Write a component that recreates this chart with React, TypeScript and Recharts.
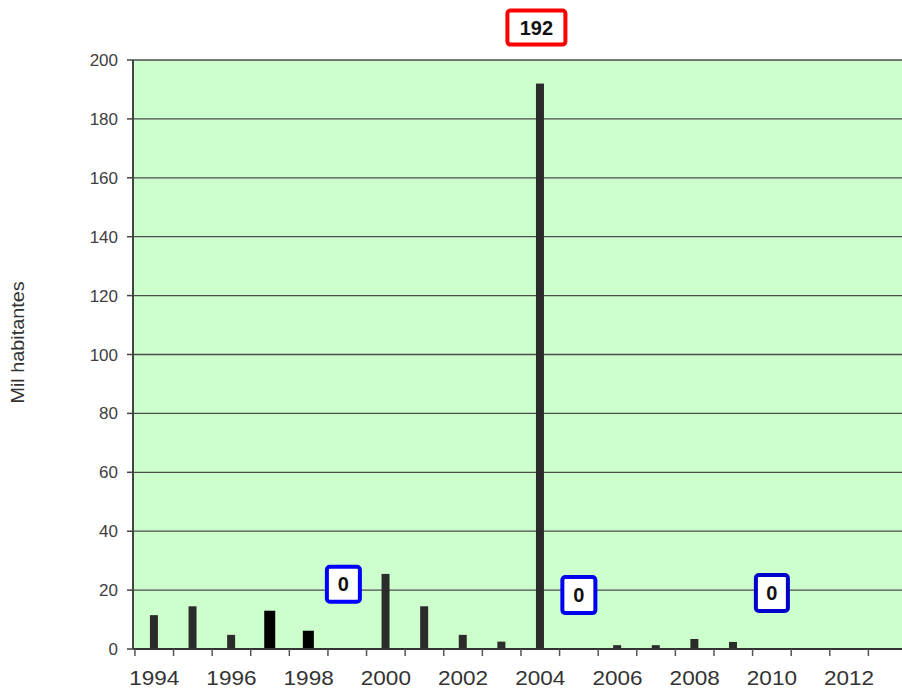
import React from 'react';
import { BarChart, Bar, XAxis, YAxis, CartesianGrid, ReferenceDot } from 'recharts';

// one value per year (thousand inhabitants)
const years = [1994, 1995, 1996, 1997, 1998, 1999, 2000, 2001, 2002, 2003, 2004, 2005, 2006, 2007, 2008, 2009, 2010, 2011, 2012, 2013];
const inhabitants = [11.5, 14.5, 4.8, 13, 6.2, 0, 25.5, 14.5, 4.8, 2.5, 192, 0, 1.3, 1.3, 3.4, 2.4, 0, null, null, null];
const heavyYears = [1997, 1998];

const yearLabels = [1994, 1996, 1998, 2000, 2002, 2004, 2006, 2008, 2010, 2012];
const yTicks = [0, 20, 40, 60, 80, 100, 120, 140, 160, 180, 200];

// callout boxes (x in years, y in axis units)
const calloutX = [2003.9, 1998.9, 2005, 2010];
const calloutY = [211, 22, 18.3, 19];
const calloutText = ['192', '0', '0', '0'];

const FONT = '"Liberation Sans", Arial, sans-serif';
const TICK_SIZE = 7;
const TICK_MARGIN = 2;

const calloutStyles = [
  { stroke: '#ff0000', w: 58, h: 34 },
  { stroke: '#0000ff', w: 33, h: 35 },
  { stroke: '#0000ee', w: 33, h: 36 },
  { stroke: '#0000cc', w: 32, h: 36 },
];

const data = years.map((year, i) => ({ year, value: inhabitants[i] }));
const boundaries = [...years.map((y) => y - 0.5), years[years.length - 1] + 0.5];
const xTicks = [...boundaries, ...yearLabels].sort((a, b) => a - b);

const BarShape = (props: any) => {
  const { x, y, width, height, payload } = props;
  if (!height || height <= 0) return null;
  const heavy = heavyYears.includes(payload.year);
  const w = heavy ? width + 3 : width;
  return <rect x={x - (w - width) / 2} y={y} width={w} height={height} fill={heavy ? '#000' : '#2b2b2b'} />;
};

const YearTick = (props: any) => {
  const { x, y, payload } = props;
  const v = payload.value;
  if (!Number.isInteger(v)) {
    return (
      <line x1={x} x2={x} y1={y - TICK_MARGIN - TICK_SIZE} y2={y - TICK_MARGIN} stroke="#555" strokeWidth={1.5} />
    );
  }
  return (
    <text
      transform={`translate(${x} ${y + 27}) scale(1.1 1)`}
      textAnchor="middle"
      fill="#333"
      fontSize={20.5}
      fontFamily={FONT}
    >
      {v}
    </text>
  );
};

const calloutShape = (i: number) => (props: any) => {
  const { cx, cy } = props;
  const s = calloutStyles[i];
  return (
    <g>
      <rect x={cx - s.w / 2} y={cy - s.h / 2} width={s.w} height={s.h} rx={3} fill="#fff" stroke={s.stroke} strokeWidth={4} />
      <text x={cx} y={cy} dy={7} textAnchor="middle" fontWeight="bold" fontSize={20} fontFamily={FONT} fill="#111">
        {calloutText[i]}
      </text>
    </g>
  );
};

const YTitle = (props: any) => {
  const vb = props.viewBox || { y: 60, height: 589 };
  const cy = vb.y + vb.height / 2 - 12;
  return (
    <text
      transform={`translate(24 ${cy}) rotate(-90) scale(1.1 1)`}
      textAnchor="middle"
      fontSize={18}
      fill="#333"
      fontFamily={FONT}
    >
      Mil  habitantes
    </text>
  );
};

export default function App() {
  return (
    <div style={{ position: 'absolute', left: 0, top: 0, width: 902, height: 689, overflow: 'hidden', background: '#fff' }}>
      <BarChart width={907} height={689} data={data} margin={{ top: 60, right: 0, left: 0, bottom: 0 }}>
        <CartesianGrid vertical={false} stroke="#4d4d4d" strokeWidth={1.3} fill="#ccffcc" fillOpacity={1} />
        <XAxis
          type="number"
          dataKey="year"
          domain={[1993.45, 2013.5]}
          allowDataOverflow
          ticks={xTicks}
          interval={0}
          tickLine={false}
          tickSize={TICK_SIZE}
          tickMargin={TICK_MARGIN}
          tick={<YearTick />}
          height={40}
          axisLine={{ stroke: '#333', strokeWidth: 2 }}
        />
        <YAxis
          domain={[0, 200]}
          ticks={yTicks}
          interval={0}
          width={133}
          tickSize={6}
          tickMargin={9}
          tickLine={{ stroke: '#444', strokeWidth: 1.5 }}
          axisLine={{ stroke: '#444', strokeWidth: 2 }}
          tick={{ fill: '#404040', fontSize: 17, fontFamily: FONT }}
          label={(p: any) => <YTitle {...p} />}
        />
        <Bar dataKey="value" barSize={8} shape={<BarShape />} isAnimationActive={false} />
        {calloutX.map((cx, i) => (
          <ReferenceDot key={i} x={cx} y={calloutY[i]} ifOverflow="visible" shape={calloutShape(i)} />
        ))}
      </BarChart>
    </div>
  );
}
